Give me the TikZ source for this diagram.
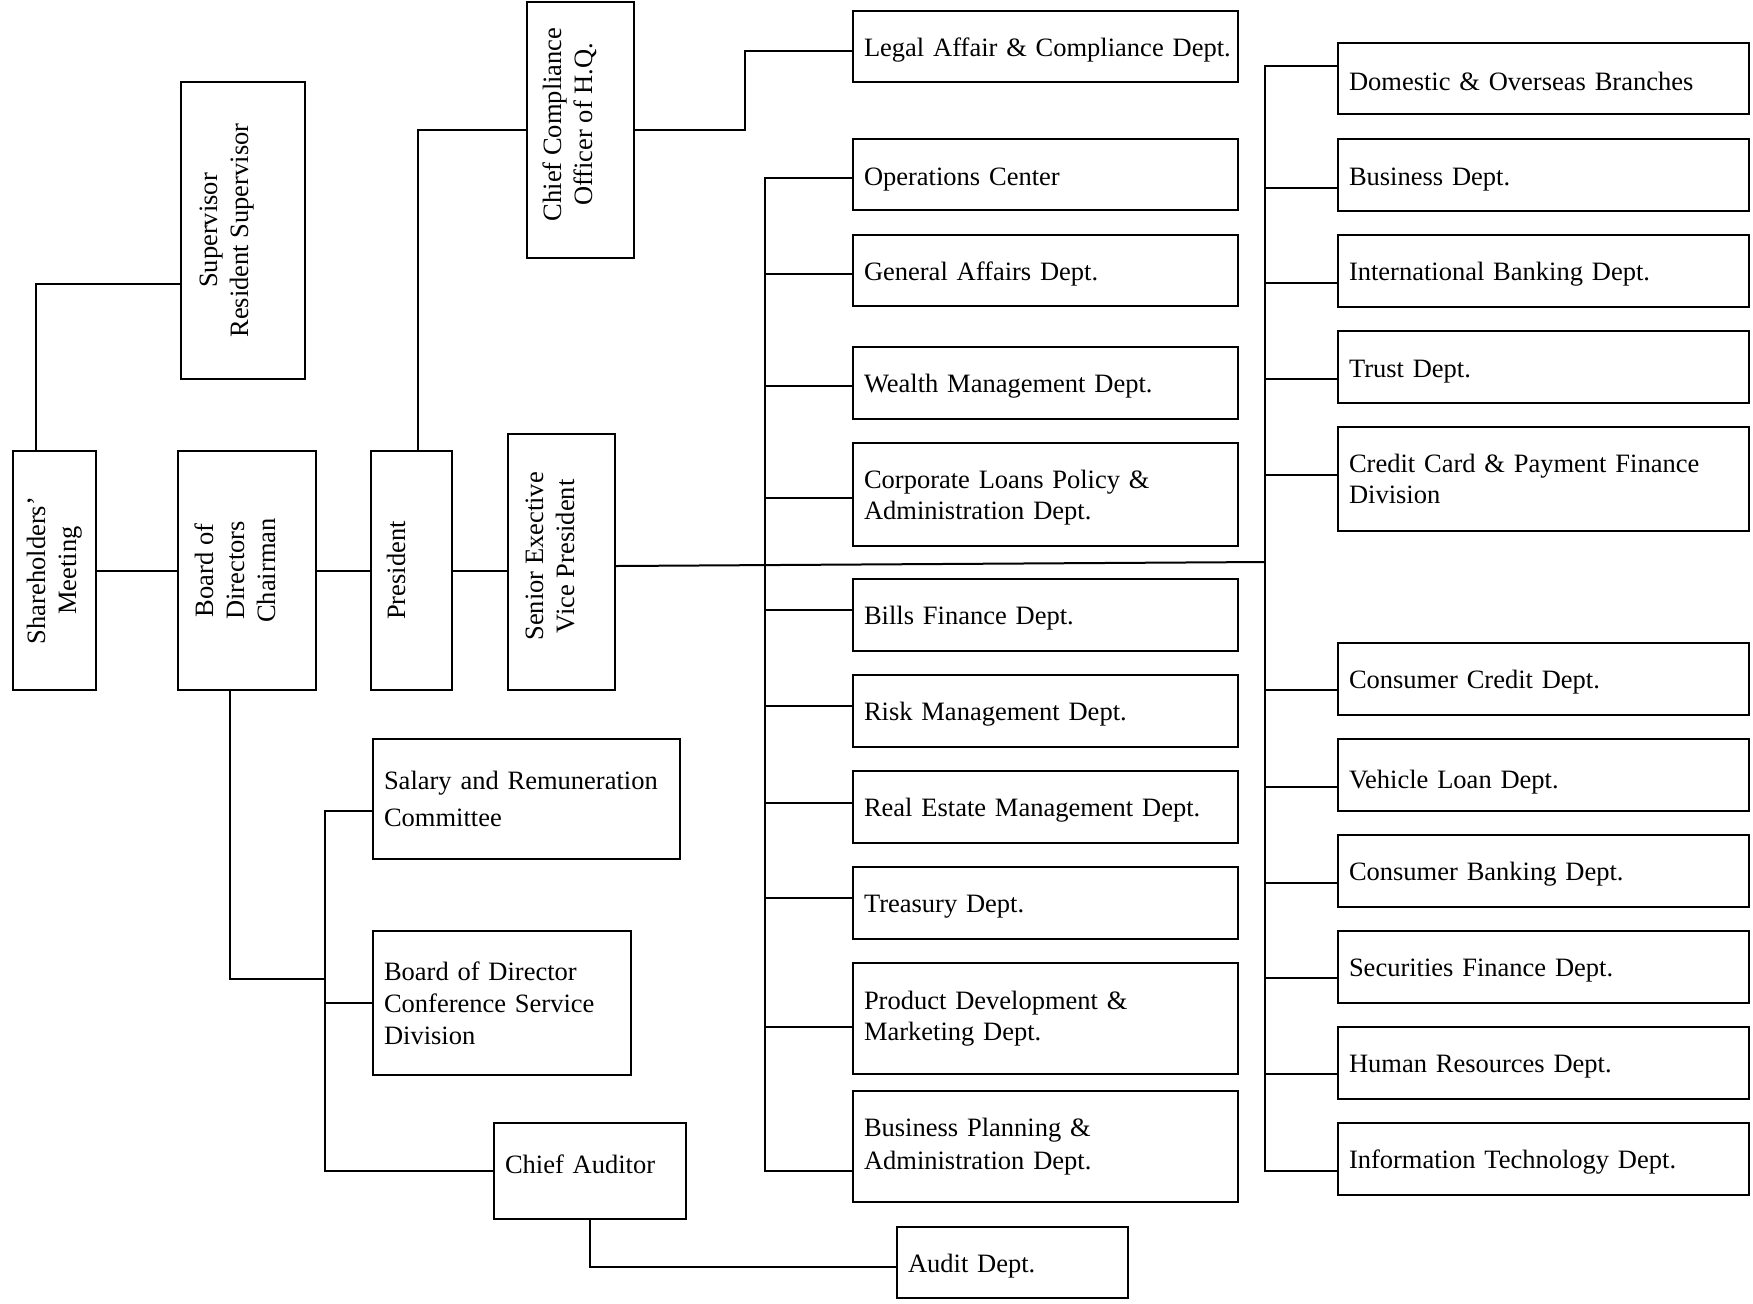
\documentclass[tikz,border=0pt]{standalone}
\usepackage{fontspec}
\setmainfont{Liberation Serif}
\usepackage{graphicx}
\tikzset{
  box/.style={draw, line width=1pt, inner xsep=5.5pt, inner ysep=0pt, align=left,
    font=\fontsize{13.25}{15.5}\selectfont},
  vbox/.style={draw, line width=1pt, inner sep=0pt, align=center,
    font=\fontsize{13.25}{15.5}\selectfont},
  conn/.style={line width=1pt},
}
\newcommand\TS[1]{\rule{0pt}{#1pt}}
% #1 extra options, #2 name, #3 x1, #4 y1, #5 x2, #6 y2, #7 text
\newcommand\LB[7]{%
  \pgfmathsetmacro\myW{(#5-#3)*0.5}%
  \pgfmathsetmacro\myH{(#6-#4)*0.5}%
  \pgfmathsetmacro\myT{(#5-#3)*0.5-11}%
  \node[box, minimum width=\myW pt, minimum height=\myH pt, text width=\myT pt, #1]
    (#2) at ({(#3+#5)/2},{(#4+#6)/2}) {#7};}
% #1 name, #2 x1, #3 y1, #4 x2, #5 y2, #6 kern, #7 extra depth, #8 text
\newcommand\VB[8]{%
  \pgfmathsetmacro\myW{(#4-#2)*0.5}%
  \pgfmathsetmacro\myH{(#5-#3)*0.5}%
  \node[vbox, minimum width=\myW pt, minimum height=\myH pt]
    (#1) at ({(#2+#4)/2},{(#3+#5)/2})
    {\rotatebox{90}{\begin{tabular}{@{}c@{}}#8\end{tabular}}\kern#6pt\rule[-#7pt]{0pt}{0pt}};}
\begin{document}
\begin{tikzpicture}[x=0.5pt,y=-0.5pt]
\useasboundingbox[fill=white] (0,0) rectangle (1753,1303);

% vertical boxes
\VB{sh}{13}{451}{96}{690}{0}{0}{Shareholders’\\Meeting}
\VB{sup}{181}{82}{305}{379}{16.6}{0}{Supervisor\\Resident Supervisor}
\VB{bod}{178}{451}{316}{690}{9}{0}{Board of\\Directors\\Chairman}
\VB{pres}{371}{451}{452}{690}{12.5}{0}{President}
\VB{sevp}{508}{434}{615}{690}{9}{5.6}{Senior Exective\\Vice President}
\VB{cco}{527}{2}{634}{258}{10}{5.6}{Chief Compliance\\Officer of H.Q.}

% middle column
\LB{}{legal}{853}{11}{1238}{82}{\TS{12.5}\mbox{Legal Affair \& Compliance Dept.}}
\LB{}{ops}{853}{139}{1238}{210}{\TS{13.5}Operations Center}
\LB{}{gen}{853}{235}{1238}{306}{\TS{12.5}General Affairs Dept.}
\LB{}{wealth}{853}{347}{1238}{419}{\TS{12.5}Wealth Management Dept.}
\LB{}{corp}{853}{443}{1238}{546}{\TS{12.5}Corporate Loans Policy \&\\Administration Dept.}
\LB{}{bills}{853}{579}{1238}{651}{\TS{12.5}Bills Finance Dept.}
\LB{}{risk}{853}{675}{1238}{747}{\TS{12.5}Risk Management Dept.}
\LB{}{real}{853}{771}{1238}{843}{\TS{12}Real Estate Management Dept.}
\LB{}{treas}{853}{867}{1238}{939}{\TS{12.5}Treasury Dept.}
\LB{}{prod}{853}{963}{1238}{1074}{Product Development \&\\Marketing Dept.}
\LB{font=\fontsize{13.25}{16.2}\selectfont}{bpa}{853}{1091}{1238}{1202}{Business Planning \&\\Administration Dept.}
\LB{}{audit}{897}{1227}{1128}{1298}{\TS{12.5}Audit Dept.}

% lower left
\LB{font=\fontsize{13.25}{18.5}\selectfont}{sal}{373}{739}{680}{859}{Salary and Remuneration\\Committee}
\LB{font=\fontsize{13.25}{16}\selectfont}{conf}{373}{931}{631}{1075}{Board of Director\\Conference Service\\Division}
\LB{}{ca}{494}{1123}{686}{1219}{Chief Auditor\rule[-7pt]{0pt}{7pt}}

% right column
\LB{}{dom}{1338}{43}{1749}{114}{\TS{12.5}Domestic \& Overseas Branches}
\LB{}{busd}{1338}{139}{1749}{211}{\TS{13.5}Business Dept.}
\LB{}{intl}{1338}{235}{1749}{307}{\TS{12.5}International Banking Dept.}
\LB{}{trust}{1338}{331}{1749}{403}{\TS{13.5}Trust Dept.}
\LB{}{credit}{1338}{427}{1749}{531}{Credit Card \& Payment Finance\\Division}
\LB{}{cc}{1338}{643}{1749}{715}{\TS{12.5}Consumer Credit Dept.}
\LB{}{veh}{1338}{739}{1749}{811}{\TS{16.8}Vehicle Loan Dept.}
\LB{}{cb}{1338}{835}{1749}{907}{\TS{12.5}Consumer Banking Dept.}
\LB{}{sec}{1338}{931}{1749}{1003}{\TS{12.5}Securities Finance Dept.}
\LB{}{hr}{1338}{1027}{1749}{1099}{\TS{12.5}Human Resources Dept.}
\LB{}{it}{1338}{1123}{1749}{1195}{\TS{12}Information Technology Dept.}

% connectors, top-left
\draw[conn] ([xshift=12pt]sh.north west) |- ([yshift=-26.5pt]sup.west);
\draw[conn] (sh.east) -- (bod.west);
\draw[conn] (bod.east) -- (pres.west);
\draw[conn] (pres.east) -- (pres.east -| sevp.west);
\draw[conn] ([xshift=3.25pt]pres.north) |- (cco.west);
\draw[conn] (cco.east) -- ++(55pt,0) |- ([yshift=-2pt]legal.west);

% middle bus
\draw[conn] ([yshift=-1.95pt]ops.west) -- ++(-43.5pt,0) -- ([xshift=-43.5pt,yshift=-12.25pt]bpa.west) -- ([yshift=-12.25pt]bpa.west);
\foreach \n/\s in {gen/-1.75, wealth/-1.7, corp/-1.85, bills/2.35, risk/2.4, real/2, treas/2.35, prod/-4.15}
  \draw[conn] ([yshift=\s pt]\n.west) -- ++(-43.5pt,0);

% right bus
\coordinate (rb) at ([xshift=-36pt]dom.west);
\draw[conn] ([yshift=6.25pt]dom.west) -- ++(-36pt,0) -- ([xshift=-36pt,yshift=-6pt]it.west) -- ([yshift=-6pt]it.west);
\foreach \n/\s in {busd/-6.3, intl/-6, trust/-5.75, credit/2.1, cc/-5.5, veh/-5.9, cb/-5.8, sec/-5.7, hr/-5.65}
  \draw[conn] ([yshift=\s pt]\n.west) -- ++(-36pt,0);
\draw[conn] ([yshift=-2pt]sevp.east) -- (sevp.east -| rb);

% lower-left bus
\draw[conn] ([xshift=-8.75pt]bod.south) |- ([xshift=-23.75pt,yshift=12pt]conf.west);
\draw[conn] ([yshift=-5.9pt]sal.west) -- ++(-23.75pt,0) |- (ca.west);
\draw[conn] (conf.west) -- ++(-23.75pt,0);
\draw[conn] (ca.south) |- ([yshift=-2.1pt]audit.west);
\end{tikzpicture}
\end{document}
